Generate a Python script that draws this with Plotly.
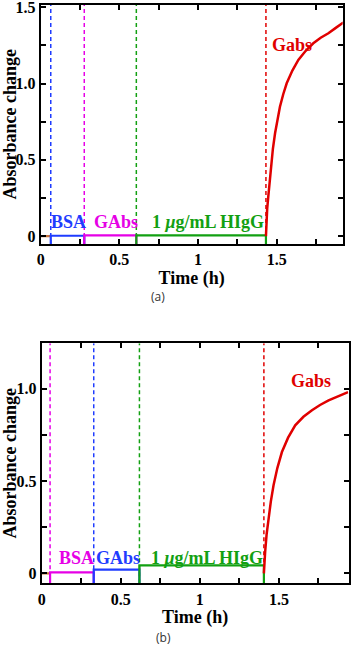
import plotly.graph_objects as go

# ---------- data ----------
# panel (a)
a_bounds = [0.0, 0.064, 0.277, 0.608, 1.432]
a_levels = [0.0, 0.002, 0.005, 0.005]
a_seg_colors = ["#c8743a", "#1f3cff", "#e600e6", "#12a012"]
a_vlines = [0.064, 0.277, 0.608, 1.432]
a_vline_colors = ["#1f3cff", "#e600e6", "#12a012", "#e00000"]
a_labels = ["BSA", "GAbs", "1 <i>μ</i>g/mL HIgG", "Gabs"]
a_label_x = [0.176, 0.476, 1.062, 1.60]
a_label_y = [0.094, 0.094, 0.094, 1.25]
a_label_colors = ["#1f3cff", "#e600e6", "#12a012", "#e00000"]
a_curve_t = [1.432, 1.435, 1.440, 1.447, 1.455, 1.464, 1.476, 1.490, 1.505, 1.521, 1.542,
             1.564, 1.600, 1.638, 1.685, 1.733, 1.780, 1.829, 1.876, 1.924]
a_curve_y = [0.0, 0.10, 0.18, 0.26, 0.36, 0.455, 0.57, 0.674, 0.765, 0.848, 0.93,
             1.002, 1.085, 1.155, 1.215, 1.264, 1.300, 1.330, 1.365, 1.400]

# panel (b)
b_bounds = [0.0, 0.053, 0.329, 0.618, 1.405]
b_levels = [0.0, 0.005, 0.02, 0.043]
b_seg_colors = ["#c8743a", "#e600e6", "#1f3cff", "#12a012"]
b_vlines = [0.053, 0.329, 0.618, 1.405]
b_vline_colors = ["#e600e6", "#1f3cff", "#12a012", "#e00000"]
b_labels = ["BSA", "GAbs", "1 <i>μ</i>g/mL HIgG", "Gabs"]
b_label_x = [0.219, 0.485, 1.047, 1.703]
b_label_y = [0.084, 0.084, 0.084, 1.041]
b_label_colors = ["#e600e6", "#1f3cff", "#12a012", "#e00000"]
b_curve_t = [1.405, 1.408, 1.413, 1.422, 1.434, 1.449, 1.466, 1.490, 1.519, 1.558,
             1.603, 1.655, 1.709, 1.760, 1.814, 1.875, 1.937]
b_curve_y = [0.0, 0.06, 0.117, 0.21, 0.297, 0.39, 0.477, 0.57, 0.657, 0.735,
             0.802, 0.848, 0.883, 0.912, 0.937, 0.960, 0.982]

x_tickvals = [0, 0.25, 0.5, 0.75, 1, 1.25, 1.5, 1.75]
x_ticktext = ["0", "", "0.5", "", "1", "", "1.5", ""]
a_y_tickvals = [0, 0.25, 0.5, 0.75, 1.0, 1.25, 1.5]
a_y_ticktext = ["0", "", "0.5", "", "1.0", "", "1.5"]
b_y_tickvals = [0, 0.25, 0.5, 0.75, 1.0, 1.25]
b_y_ticktext = ["0", "", "0.5", "", "1.0", ""]

a_xrange = [0, 1.92]
a_yrange = [-0.052, 1.517]
b_xrange = [0, 1.94]
b_yrange = [-0.054, 1.246]

SERIF = "Liberation Serif, Times New Roman, Times, serif"
RED = "#e00000"

fig = go.Figure()


def add_panel(xa, ya, bounds, levels, seg_colors, vlines, vcolors, labels,
              lx, ly, lcolors, ct, cy, yrange):
    base = yrange[0]
    for xv, c in zip(vlines, vcolors):
        fig.add_trace(go.Scatter(x=[xv, xv], y=[yrange[0], yrange[1]], mode="lines",
                                 line=dict(color=c, width=1.5, dash="4px,3px"),
                                 xaxis=xa, yaxis=ya, showlegend=False, hoverinfo="skip"))
    for i, (lv, c) in enumerate(zip(levels, seg_colors)):
        x0, x1 = bounds[i], bounds[i + 1]
        if i == 0:
            xs, ys = [x0, x1], [lv, lv]
        else:
            xs, ys = [x0, x0, x1, x1], [base, lv, lv, base]
        fig.add_trace(go.Scatter(x=xs, y=ys, mode="lines",
                                 line=dict(color=c, width=2.2),
                                 xaxis=xa, yaxis=ya, showlegend=False, hoverinfo="skip"))
    fig.add_trace(go.Scatter(x=ct, y=cy, mode="lines", line=dict(color=RED, width=2.5),
                             xaxis=xa, yaxis=ya, showlegend=False))
    for t, x, y, c in zip(labels, lx, ly, lcolors):
        fig.add_annotation(x=x, y=y, xref=xa, yref=ya, text="<b>" + t + "</b>", showarrow=False,
                           font=dict(family=SERIF, size=18, color=c))


add_panel("x", "y", a_bounds, a_levels, a_seg_colors, a_vlines, a_vline_colors,
          a_labels, a_label_x, a_label_y, a_label_colors, a_curve_t, a_curve_y, a_yrange)
add_panel("x2", "y2", b_bounds, b_levels, b_seg_colors, b_vlines, b_vline_colors,
          b_labels, b_label_x, b_label_y, b_label_colors, b_curve_t, b_curve_y, b_yrange)

W, H = 351, 648
tickfont = dict(family=SERIF, size=16, color="black", weight="bold")
titlefont = dict(family=SERIF, size=18, color="black", weight="bold")
common = dict(showline=True, linecolor="black", linewidth=2, mirror="allticks",
              ticks="inside", ticklen=5, tickwidth=1.5, tickcolor="black",
              showgrid=False, zeroline=False, tickfont=tickfont, fixedrange=True,
              automargin=False, ticklabeloverflow="allow")

fig.update_layout(
    width=W, height=H,
    margin=dict(l=0, r=0, t=0, b=0),
    paper_bgcolor="white", plot_bgcolor="white",
    xaxis=dict(domain=[40.7 / W, 342.7 / W], anchor="y", range=a_xrange,
               tickvals=x_tickvals, ticktext=x_ticktext,
               title=dict(text="Time (h)", font=titlefont, standoff=4), **common),
    yaxis=dict(domain=[1 - 244 / H, 1 - 4.7 / H], anchor="x", range=a_yrange,
               tickvals=a_y_tickvals, ticktext=a_y_ticktext,
               title=dict(text="Absorbance change", font=titlefont, standoff=4), **common),
    xaxis2=dict(domain=[41.7 / W, 348.5 / W], anchor="y2", range=b_xrange,
                tickvals=x_tickvals, ticktext=x_ticktext,
                title=dict(text="Time (h)", font=titlefont, standoff=4), **common),
    yaxis2=dict(domain=[1 - 583.3 / H, 1 - 343.3 / H], anchor="x2", range=b_yrange,
                tickvals=b_y_tickvals, ticktext=b_y_ticktext,
                title=dict(text="Absorbance change", font=titlefont, standoff=4), **common),
)

fig.add_annotation(x=158 / W, y=1 - 297 / H, xref="paper", yref="paper", text="(a)",
                   xanchor="center", yanchor="middle",
                   showarrow=False, font=dict(family="Open Sans", size=12, color="#333333"))
fig.add_annotation(x=163 / W, y=1 - 637 / H, xref="paper", yref="paper", text="(b)",
                   xanchor="center", yanchor="middle",
                   showarrow=False, font=dict(family="Open Sans", size=12, color="#333333"))

fig.write_html("out.html", config={"displayModeBar": False},
               post_script="document.body.style.margin='0';document.body.style.padding='0';")
